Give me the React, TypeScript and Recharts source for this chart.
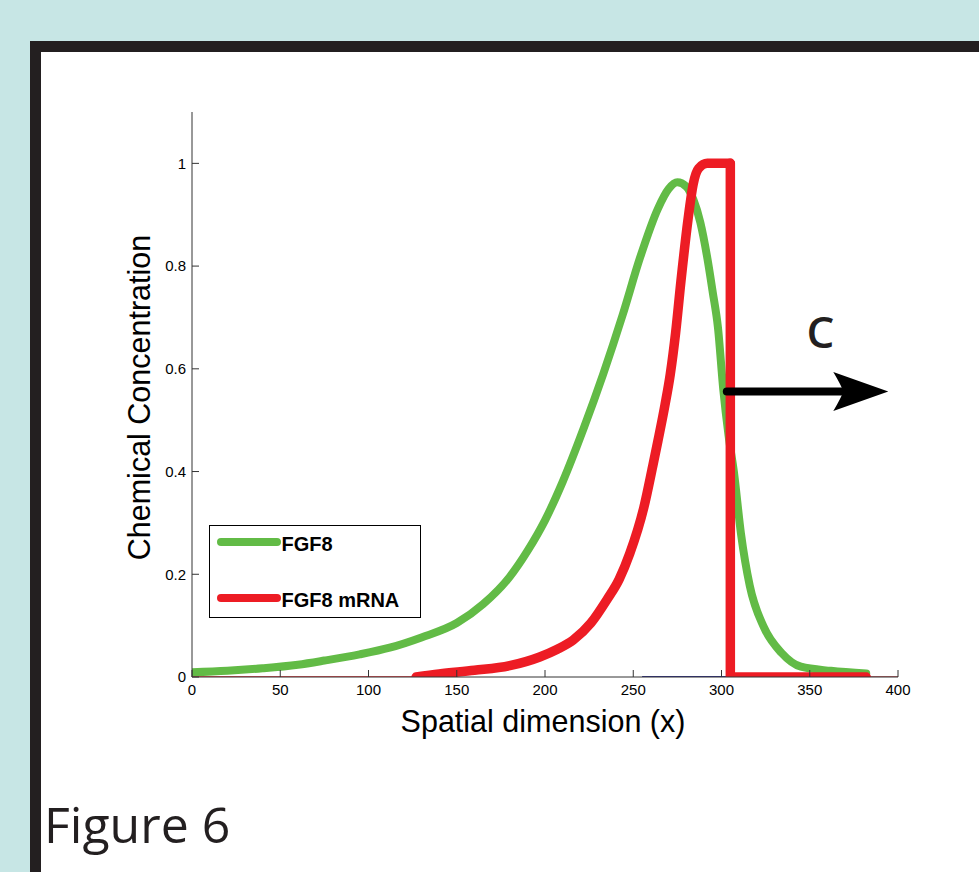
import React from 'react';
import { LineChart, Line, XAxis, YAxis, Legend, ReferenceLine, ReferenceDot } from 'recharts';

// ---- data ----
const xTicks = [0, 50, 100, 150, 200, 250, 300, 350, 400];
const yTicks = [0, 0.2, 0.4, 0.6, 0.8, 1];

const fgf8X = [0, 20, 40, 60, 75, 95, 112, 130, 150, 165, 180, 190, 200, 210, 222, 233, 244, 254, 264, 270, 275, 280, 284, 288, 292, 295, 298, 301, 304, 307, 311, 316, 324, 334, 345, 362, 382];
const fgf8Y = [0.009, 0.012, 0.017, 0.024, 0.032, 0.044, 0.057, 0.077, 0.105, 0.142, 0.195, 0.245, 0.305, 0.38, 0.485, 0.59, 0.705, 0.818, 0.912, 0.95, 0.963, 0.955, 0.93, 0.885, 0.815, 0.75, 0.68, 0.56, 0.47, 0.4, 0.28, 0.178, 0.097, 0.047, 0.02, 0.012, 0.007];

// FGF8 mRNA: smooth rise up to the plateau, then the sharp drop and flat tail
const mrnaRiseX = [127, 140, 160, 180, 197, 207, 216, 226, 235, 242, 248, 256, 261, 264, 268, 271, 274, 277, 281, 284, 287, 292, 305];
const mrnaRiseY = [0, 0.006, 0.013, 0.022, 0.039, 0.054, 0.072, 0.105, 0.15, 0.19, 0.24, 0.33, 0.41, 0.46, 0.53, 0.59, 0.67, 0.77, 0.89, 0.96, 0.99, 1, 1];
const mrnaDropX = [305, 305, 382];
const mrnaDropY = [1, 0, 0];

const thinRedAX = [0, 128];
const thinRedBX = [383, 400];
const thinBlueX = [255, 305];

const seriesNames = ['FGF8', 'FGF8 mRNA'];
const arrowY = 0.556;
const arrowStartX = 303;
const arrowShaftEndX = 384;
const arrowTipX = 394.5;
const labelC = { x: 356, y: 0.672, text: 'C' };

const toPoints = (xs: number[], ys: number[]) => xs.map((x, i) => ({ x, y: ys[i] }));
const fgf8Data = toPoints(fgf8X, fgf8Y);
const mrnaRise = toPoints(mrnaRiseX, mrnaRiseY);
const mrnaDrop = toPoints(mrnaDropX, mrnaDropY);
const thinRedA = toPoints(thinRedAX, thinRedAX.map(() => 0));
const thinRedB = toPoints(thinRedBX, thinRedBX.map(() => 0));
const thinBlue = toPoints(thinBlueX, thinBlueX.map(() => 0));

const GREEN = '#62BB46';
const RED = '#ED1C24';
const AXIS = '#333';
const TM = 6;
const FONT = '"Liberation Sans", Arial, sans-serif';

const XTick = (props: any) => {
  const { x, y, payload } = props;
  const axisY = y - TM;
  return (
    <g>
      <line x1={x} x2={x} y1={axisY} y2={axisY - 7} stroke={AXIS} strokeWidth={1} />
      <text x={x} y={axisY + 7} dy="0.71em" textAnchor="middle" fontFamily={FONT} fontSize={15} fill="#000">
        {payload.value}
      </text>
    </g>
  );
};

const YTick = (props: any) => {
  const { x, y, payload } = props;
  const axisX = x + TM;
  return (
    <g>
      <line x1={axisX} x2={axisX + 7} y1={y} y2={y} stroke={AXIS} strokeWidth={1} />
      <text x={axisX - 6} y={y} dy="0.36em" textAnchor="end" fontFamily={FONT} fontSize={15} fill="#000">
        {payload.value}
      </text>
    </g>
  );
};

const YLabel = (props: any) => {
  const vb = props.viewBox || {};
  const cx = vb.x + 18;
  const cy = vb.y + vb.height / 2 + 3;
  return (
    <text transform={`translate(${cx}, ${cy}) rotate(-90)`} x={0} y={0} textAnchor="middle" fontFamily={FONT} fontSize={30.5} fill="#000">
      Chemical Concentration
    </text>
  );
};

const XLabel = (props: any) => {
  const vb = props.viewBox || {};
  const cx = vb.x + vb.width / 2 - 2;
  const by = vb.y + 55;
  return (
    <text x={cx} y={by} textAnchor="middle" fontFamily={FONT} fontSize={30.5} fill="#000">
      Spatial dimension (x)
    </text>
  );
};

const LegendBox = (props: any) => {
  const payload = (props.payload || []).filter((p: any) => seriesNames.includes(p.value));
  return (
    <div
      style={{
        width: 212,
        height: 93,
        border: '1.5px solid #000',
        boxSizing: 'border-box',
        background: '#fff',
        position: 'relative',
        fontFamily: FONT,
        fontWeight: 'bold',
        fontSize: 20,
        color: '#000',
      }}
    >
      {payload.map((p: any, i: number) => (
        <div
          key={p.value}
          style={{ position: 'absolute', left: 6.5, top: i === 0 ? 6.5 : 62.5, height: 18, display: 'flex', alignItems: 'center' }}
        >
          <div style={{ width: 64, height: 8, borderRadius: 4, background: p.color }} />
          <span style={{ marginLeft: 1, lineHeight: '18px', whiteSpace: 'nowrap', position: 'relative', top: 2 }}>{p.value}</span>
        </div>
      ))}
    </div>
  );
};

const ArrowHead = (props: any) => {
  const { cx, cy } = props;
  if (cx == null || cy == null) return null;
  const d = `M ${cx} ${cy} L ${cx - 55} ${cy - 19.5} Q ${cx - 47} ${cy - 6} ${cx - 45} ${cy} Q ${cx - 47} ${cy + 6} ${cx - 55} ${cy + 19.5} Z`;
  return <path d={d} fill="#000" stroke="none" />;
};

const CText = (props: any) => {
  const { cx, cy } = props;
  if (cx == null || cy == null) return null;
  return (
    <text x={cx} y={cy} dy="0.36em" textAnchor="middle" fontFamily='"Open Sans", sans-serif' fontWeight={600} fontSize={44} fill="#231F20">
      {labelC.text}
    </text>
  );
};

export default function App() {
  return (
    <div style={{ position: 'fixed', left: 0, top: 0, width: 979, height: 872, background: '#C7E6E5', overflow: 'hidden' }}>
      <div
        style={{
          position: 'absolute',
          left: 30,
          top: 41,
          width: 1100,
          height: 1000,
          background: '#fff',
          borderLeft: '11px solid #231F20',
          borderTop: '11px solid #231F20',
        }}
      />
      <div style={{ position: 'absolute', left: 0, top: 0 }}>
        <LineChart width={979} height={872} margin={{ top: 112, right: 81, left: 132, bottom: 135 }}>
          <XAxis
            type="number"
            dataKey="x"
            domain={[0, 400]}
            ticks={xTicks}
            allowDataOverflow
            tickSize={0}
            tickMargin={TM}
            tickLine={false}
            tick={<XTick />}
            axisLine={{ stroke: AXIS, strokeWidth: 1 }}
            height={60}
            label={<XLabel />}
          />
          <YAxis
            type="number"
            dataKey="y"
            domain={[0, 1.1]}
            ticks={yTicks}
            allowDataOverflow
            tickSize={0}
            tickMargin={TM}
            tickLine={false}
            tick={<YTick />}
            axisLine={{ stroke: AXIS, strokeWidth: 1 }}
            width={60}
            label={<YLabel />}
          />
          <Legend
            layout="vertical"
            align="center"
            verticalAlign="middle"
            content={<LegendBox />}
            wrapperStyle={{ left: 209, top: 525, width: 212, height: 93, bottom: 'auto', right: 'auto' }}
          />
          <Line data={thinRedA} dataKey="y" name="thinA" stroke={RED} strokeWidth={1.5} dot={false} activeDot={false} legendType="none" isAnimationActive={false} type="linear" />
          <Line data={thinRedB} dataKey="y" name="thinB" stroke="#B5373C" strokeWidth={1.5} dot={false} activeDot={false} legendType="none" isAnimationActive={false} type="linear" />
          <Line data={thinBlue} dataKey="y" name="thinC" stroke="#2E3192" strokeWidth={2} dot={false} activeDot={false} legendType="none" isAnimationActive={false} type="linear" />
          <Line
            data={fgf8Data}
            dataKey="y"
            name={seriesNames[0]}
            stroke={GREEN}
            strokeWidth={8}
            strokeLinecap="round"
            strokeLinejoin="round"
            dot={false}
            activeDot={false}
            isAnimationActive={false}
            type="monotone"
          />
          <Line
            data={mrnaRise}
            dataKey="y"
            name={seriesNames[1]}
            stroke={RED}
            strokeWidth={9.5}
            strokeLinecap="round"
            strokeLinejoin="round"
            dot={false}
            activeDot={false}
            isAnimationActive={false}
            type="monotone"
          />
          <Line
            data={mrnaDrop}
            dataKey="y"
            name="mrnaDrop"
            stroke={RED}
            strokeWidth={9.5}
            strokeLinecap="round"
            strokeLinejoin="round"
            dot={false}
            activeDot={false}
            legendType="none"
            isAnimationActive={false}
            type="linear"
          />
          <ReferenceLine
            segment={[
              { x: arrowStartX, y: arrowY },
              { x: arrowShaftEndX, y: arrowY },
            ]}
            stroke="#000"
            strokeWidth={8}
            strokeLinecap="round"
            ifOverflow="visible"
          />
          <ReferenceDot x={arrowTipX} y={arrowY} r={1} shape={<ArrowHead />} ifOverflow="visible" />
          <ReferenceDot x={labelC.x} y={labelC.y} r={1} shape={<CText />} ifOverflow="visible" />
        </LineChart>
      </div>
      <div
        style={{
          position: 'absolute',
          left: 44,
          top: 799,
          fontFamily: '"Open Sans", sans-serif',
          fontSize: 50,
          lineHeight: '50px',
          color: '#231F20',
          whiteSpace: 'nowrap',
        }}
      >
        Figure 6
      </div>
    </div>
  );
}
